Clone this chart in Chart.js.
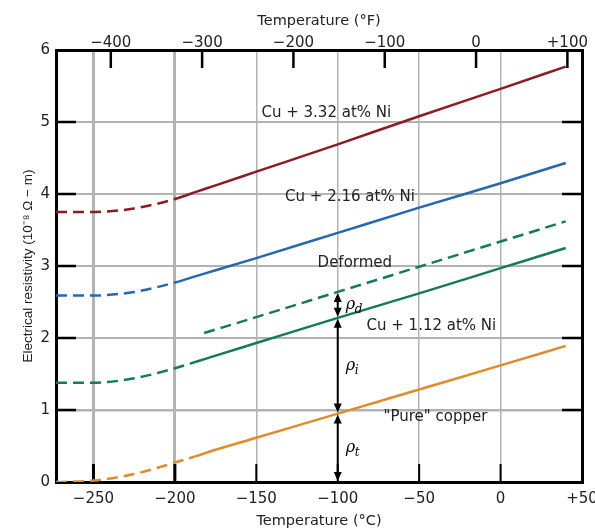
<!DOCTYPE html>
<html>
<head>
<meta charset="utf-8">
<script src="https://cdn.jsdelivr.net/npm/chart.js@4.4.1/dist/chart.umd.min.js"></script>
<style>
  html, body { margin: 0; padding: 0; background: #fff; }
  #wrap { width: 595px; height: 530px; }
</style>
</head>
<body>
<div id="wrap"><canvas id="chart" width="595" height="530"></canvas></div>
<script>
(function () {
  "use strict";

  /* ===== Data (temperature in °C, resistivity in 10^-8 ohm-m) ===== */
  var T_MAIN = [-273, -250, -225, -200, -187, -175, -150, -100, -50, 0, 40];
  var RHO_NI332 = [3.75, 3.75, 3.80, 3.93, 4.03, 4.12, 4.31, 4.69, 5.08, 5.46, 5.77];
  var RHO_NI216 = [2.59, 2.59, 2.64, 2.77, 2.86, 2.94, 3.11, 3.46, 3.81, 4.15, 4.43];
  var RHO_NI112 = [1.38, 1.38, 1.44, 1.58, 1.67, 1.755, 1.93, 2.28, 2.62, 2.97, 3.25];
  var RHO_PURE = [0.00, 0.02, 0.11, 0.27, 0.36, 0.447, 0.614, 0.95, 1.285, 1.62, 1.89];

  var T_DEFORMED = [-182, -150, -100, -50, 0, 40];
  var RHO_DEFORMED = [2.07, 2.29, 2.64, 2.99, 3.34, 3.62];

  // measured curves are dashed below these temperatures (extrapolated part)
  var DASH_END = { ni332: -200, ni216: -200, ni112: -187, pure: -187 };

  var C_TICKS = [-250, -200, -150, -100, -50, 0, 50];
  var C_LABELS = ["\u2212250", "\u2212200", "\u2212150", "\u2212100", "\u221250", "0", "+50"];
  var F_TICKS = [-400, -300, -200, -100, 0, 100];
  var F_LABELS = ["\u2212400", "\u2212300", "\u2212200", "\u2212100", "0", "+100"];
  var RHO_TICKS = [0, 1, 2, 3, 4, 5, 6];

  var ARROW_T = -100;

  /* ===== Styles ===== */
  var COLOR_NI332 = "#8e1b20";
  var COLOR_NI216 = "#2468ad";
  var COLOR_NI112 = "#157a57";
  var COLOR_PURE = "#e08b2c";
  var GRID = "#b3b3b3";
  var TEXT = "#222";
  var DASH = [11, 6];
  var FONT_TICK = { family: "'DejaVu Sans', Verdana, sans-serif", size: 15 };
  var FONT_TITLE = { family: "'DejaVu Sans', Verdana, sans-serif", size: 14.5 };
  var FONT_YTITLE = { family: "'Liberation Sans', Arial, sans-serif", size: 13.5 };
  var NOTE_FONT = "15px 'DejaVu Sans', Verdana, sans-serif";

  function pts(xs, ys) {
    return xs.map(function (x, i) { return { x: x, y: ys[i] }; });
  }

  function curve(label, ys, color, dashEnd) {
    return {
      label: label,
      data: pts(T_MAIN, ys),
      borderColor: color,
      borderWidth: 2.5,
      pointRadius: 0,
      cubicInterpolationMode: "monotone",
      segment: {
        borderDash: function (c) { return c.p1.parsed.x <= dashEnd ? DASH : undefined; }
      }
    };
  }

  function valueAt(xs, ys, t) {
    return ys[xs.indexOf(t)];
  }

  /* ===== Plugin: inward tick marks ===== */
  var innerTicks = {
    id: "innerTicks",
    beforeDatasetsDraw: function (chart) {
      var ctx = chart.ctx, a = chart.chartArea, s = chart.scales;
      function seg(x1, y1, x2, y2) {
        ctx.beginPath(); ctx.moveTo(x1, y1); ctx.lineTo(x2, y2); ctx.stroke();
      }
      ctx.save();
      ctx.strokeStyle = "#000";
      C_TICKS.forEach(function (v) {
        if (v >= 50) return;
        var x = s.x.getPixelForValue(v);
        ctx.lineWidth = (v === -250 || v === -200) ? 3 : 2;
        seg(x, a.bottom, x, a.bottom - 18);
      });
      ctx.lineWidth = 2.5;
      F_TICKS.forEach(function (v) {
        var x = s.x2.getPixelForValue(v);
        seg(x, a.top, x, a.top + 18);
      });
      ctx.lineWidth = 2.5;
      RHO_TICKS.forEach(function (v) {
        if (v === 0 || v === 6) return;
        var y = s.y.getPixelForValue(v);
        seg(a.left, y, a.left + 20, y);
        seg(a.right - 20, y, a.right, y);
      });
      ctx.restore();
    }
  };

  /* ===== Plugin: curve labels and rho arrows ===== */
  var notes = {
    id: "notes",
    afterDatasetsDraw: function (chart) {
      var ctx = chart.ctx, sx = chart.scales.x, sy = chart.scales.y;
      ctx.save();
      ctx.fillStyle = TEXT;
      ctx.font = NOTE_FONT;
      ctx.textAlign = "center";
      ctx.textBaseline = "middle";
      [
        ["Cu + 3.32 at% Ni", -107, 5.13],
        ["Cu + 2.16 at% Ni", -92.5, 3.96],
        ["Deformed", -89.5, 3.04],
        ["Cu + 1.12 at% Ni", -42.5, 2.17],
        ["\"Pure\" copper", -40, 0.90]
      ].forEach(function (n) {
        ctx.fillText(n[0], sx.getPixelForValue(n[1]), sy.getPixelForValue(n[2]));
      });

      var levels = [
        0,
        valueAt(T_MAIN, RHO_PURE, ARROW_T),
        valueAt(T_MAIN, RHO_NI112, ARROW_T),
        valueAt(T_DEFORMED, RHO_DEFORMED, ARROW_T)
      ];
      var subs = ["t", "i", "d"];
      var x = sx.getPixelForValue(ARROW_T);
      ctx.strokeStyle = "#000";
      ctx.fillStyle = "#000";
      ctx.lineWidth = 2;
      function head(y, dir) {
        ctx.beginPath();
        ctx.moveTo(x, y);
        ctx.lineTo(x - 4, y - dir * 9);
        ctx.lineTo(x + 4, y - dir * 9);
        ctx.closePath();
        ctx.fill();
      }
      for (var i = 0; i < 3; i++) {
        var y1 = sy.getPixelForValue(levels[i]);
        var y2 = sy.getPixelForValue(levels[i + 1]);
        ctx.beginPath(); ctx.moveTo(x, y1 - 4); ctx.lineTo(x, y2 + 4); ctx.stroke();
        head(y1 - 1, 1);
        head(y2 + 1, -1);
        var ym = (y1 + y2) / 2;
        ctx.textAlign = "left";
        ctx.font = "italic 16px 'DejaVu Serif', serif";
        ctx.fillText("\u03c1", x + 8, ym);
        ctx.font = "italic 12px 'DejaVu Serif', serif";
        ctx.fillText(subs[i], x + 17, ym + 5);
      }
      ctx.restore();
    }
  };

  function noPad(s) {
    s.paddingLeft = 0; s.paddingRight = 0; s.paddingTop = 0; s.paddingBottom = 0;
  }

  new Chart(document.getElementById("chart").getContext("2d"), {
    type: "line",
    data: {
      datasets: [
        curve("Cu + 3.32 at% Ni", RHO_NI332, COLOR_NI332, DASH_END.ni332),
        curve("Cu + 2.16 at% Ni", RHO_NI216, COLOR_NI216, DASH_END.ni216),
        curve("Cu + 1.12 at% Ni", RHO_NI112, COLOR_NI112, DASH_END.ni112),
        curve("\"Pure\" copper", RHO_PURE, COLOR_PURE, DASH_END.pure),
        {
          label: "Deformed",
          data: pts(T_DEFORMED, RHO_DEFORMED),
          borderColor: COLOR_NI112,
          borderWidth: 2.5,
          borderDash: DASH,
          pointRadius: 0,
          cubicInterpolationMode: "monotone"
        }
      ]
    },
    options: {
      responsive: false,
      devicePixelRatio: 1,
      animation: false,
      layout: { padding: 0 },
      plugins: { legend: { display: false }, tooltip: { enabled: false } },
      scales: {
        x: {
          type: "linear", position: "bottom", min: -273, max: 50,
          afterBuildTicks: function (s) { s.ticks = C_TICKS.map(function (v) { return { value: v }; }); },
          ticks: {
            autoSkip: false, maxRotation: 0, padding: 8, color: TEXT, font: FONT_TICK,
            callback: function (v, i) { return C_LABELS[i]; }
          },
          grid: {
            drawTicks: false, color: GRID,
            lineWidth: function (c) { return (c.tick && (c.tick.value === -250 || c.tick.value === -200)) ? 3 : 1.5; }
          },
          border: { display: true, color: "#000", width: 3 },
          title: { display: true, text: "Temperature (\u00b0C)", color: TEXT, font: FONT_TITLE, padding: { top: 0, bottom: 0 } },
          afterFit: function (s) { s.height = 48; noPad(s); }
        },
        x2: {
          type: "linear", position: "top", min: -460, max: 116,
          afterBuildTicks: function (s) { s.ticks = F_TICKS.map(function (v) { return { value: v }; }); },
          ticks: {
            autoSkip: false, maxRotation: 0, padding: -2, color: TEXT, font: FONT_TICK,
            callback: function (v, i) { return F_LABELS[i]; }
          },
          grid: { drawTicks: false, drawOnChartArea: false },
          border: { display: true, color: "#000", width: 3 },
          title: { display: true, text: "Temperature (\u00b0F)", color: TEXT, font: FONT_TITLE, padding: { top: 13, bottom: 0 } },
          afterFit: function (s) { s.height = 50; noPad(s); }
        },
        y: {
          type: "linear", position: "left", min: 0, max: 6,
          afterBuildTicks: function (s) { s.ticks = RHO_TICKS.map(function (v) { return { value: v }; }); },
          ticks: { padding: 6, color: TEXT, font: FONT_TICK },
          grid: {
            drawTicks: false, color: GRID,
            lineWidth: function (c) { return (c.tick && c.tick.value === 1) ? 2.5 : 2; }
          },
          border: { display: true, color: "#000", width: 3 },
          title: { display: true, text: "Electrical resistivity (10\u207b\u2078 \u03a9 \u2212 m)", color: TEXT, font: FONT_YTITLE, padding: { top: 20, bottom: 0 } },
          afterFit: function (s) { s.width = 56; noPad(s); }
        },
        y2: {
          type: "linear", position: "right", min: 0, max: 6,
          ticks: { display: false },
          grid: { drawTicks: false, drawOnChartArea: false },
          border: { display: true, color: "#000", width: 3 },
          afterFit: function (s) { s.width = 13; noPad(s); }
        }
      }
    },
    plugins: [innerTicks, notes]
  });
})();
</script>
</body>
</html>
